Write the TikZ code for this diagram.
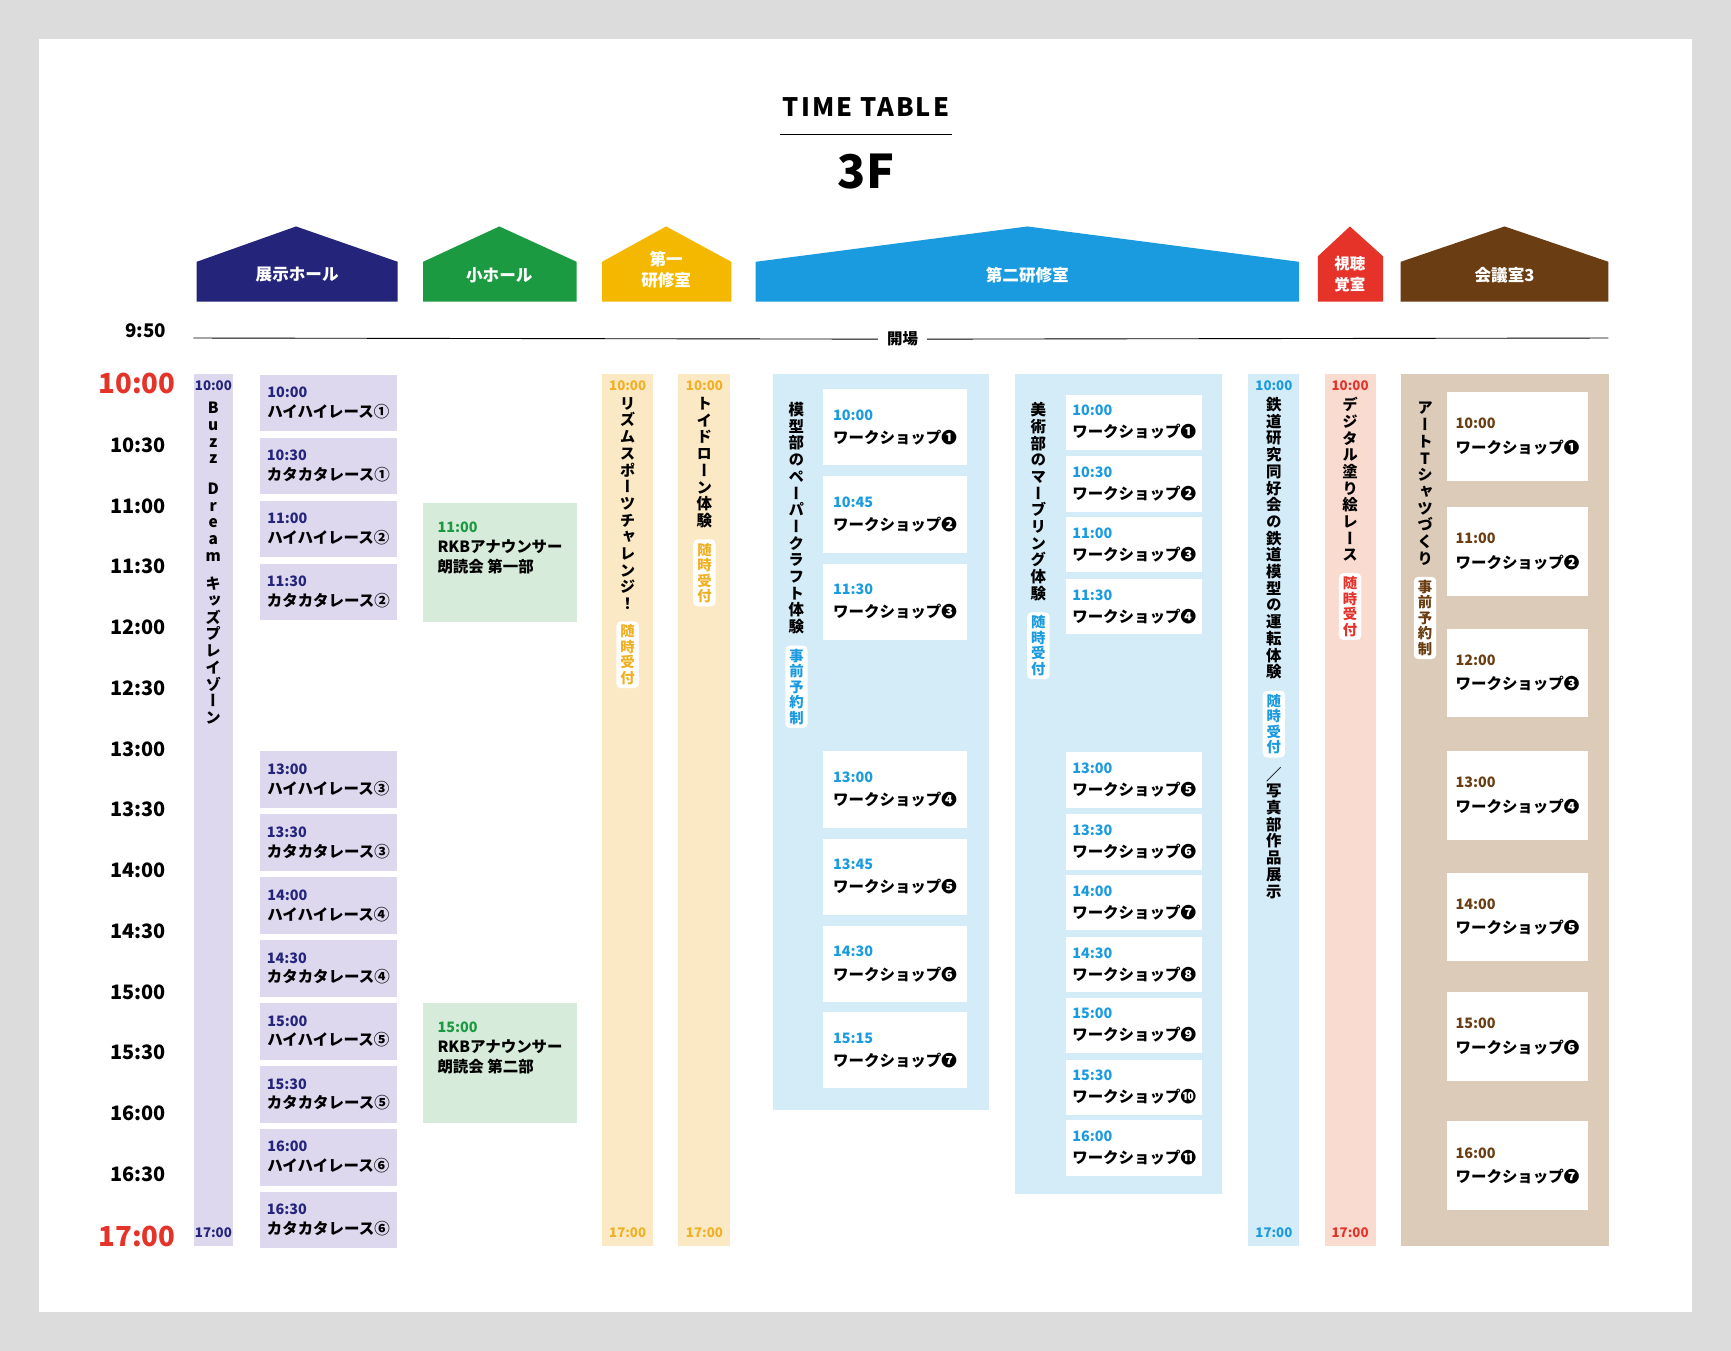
\documentclass[tikz,border=0pt]{standalone}
\usepackage{fontspec}
\setmainfont{Noto Sans CJK JP}
\newfontfamily\vfont[RawFeature=+vert]{Noto Sans CJK JP}
\definecolor{frame}{HTML}{DCDCDC}
\definecolor{navy}{HTML}{23247A}
\definecolor{lilac}{HTML}{DDD8EE}
\definecolor{hallgreen}{HTML}{1B9A42}
\definecolor{mint}{HTML}{D6EBD9}
\definecolor{amber}{HTML}{F5B800}
\definecolor{cream}{HTML}{FBE9C6}
\definecolor{tamber}{HTML}{F0B023}
\definecolor{sky}{HTML}{1A9BE0}
\definecolor{pale}{HTML}{D4EBF8}
\definecolor{scarlet}{HTML}{E5332A}
\definecolor{salmon}{HTML}{FADBD0}
\definecolor{cocoa}{HTML}{6A3D12}
\definecolor{sand}{HTML}{DCCBB9}
\usetikzlibrary{positioning}
\makeatletter
\newcommand{\vgap}{}
\def\vt@g{\vgap}
\newcommand{\vt}[1]{\vbox{\baselineskip=1.08em\lineskiplimit=-\maxdimen
  \@tfor\vt@c:=#1\do{\ifx\vt@c\vt@g\vskip.9em\else\hbox to 1.1em{\hss\vt@c\hss}\fi}}}
\makeatother
\tikzset{
  panel/.style={rectangle, anchor=north west, inner sep=0pt},
  slot/.style={rectangle, anchor=north west, align=left, inner sep=0pt, font=\fontsize{14}{18}\selectfont\bfseries},
  vlabel/.style={anchor=north, inner sep=0pt, font=\vfont\fontsize{14}{14}\selectfont\bfseries},
  badge/.style={anchor=north, fill=white, rounded corners=4pt, inner sep=3pt, font=\vfont\fontsize{13}{13}\selectfont\bfseries},
  stamp/.style={inner sep=0pt, font=\fontsize{12}{12}\selectfont\bfseries},
  roof/.style={text=white, font=\fontsize{15}{17}\selectfont\bfseries, align=center},
  hour/.style={font=\fontsize{18}{18}\selectfont\bfseries}
}
\begin{document}
\begin{tikzpicture}[x=1pt,y=-1pt]
\fill[frame] (0,0) rectangle (1567,1223);
\fill[white] (35,35) rectangle (1532,1188);
\useasboundingbox (0,0) rectangle (1567,1223);

% title
\node[font=\fontsize{23}{23}\selectfont\bfseries\addfontfeature{LetterSpace=8}] (title) at (784,97) {TIME TABLE};
\draw[line width=1pt] (706,122) -- (862,122);
\node[font=\fontsize{42}{42}\selectfont\bfseries] (floor) at (784,155) {3F};

% rooms
\fill[navy] (178,273) -- (178,237) -- (268,205) -- (360,237) -- (360,273) -- cycle;
\fill[hallgreen] (383,273) -- (383,237) -- (452,205) -- (522,237) -- (522,273) -- cycle;
\fill[amber] (545,273) -- (545,237) -- (603,205) -- (662,237) -- (662,273) -- cycle;
\fill[sky] (684,273) -- (684,237) -- (930,205) -- (1176,237) -- (1176,273) -- cycle;
\fill[scarlet] (1193,273) -- (1193,232) -- (1222,205) -- (1252,232) -- (1252,273) -- cycle;
\fill[cocoa] (1268,273) -- (1268,237) -- (1362,205) -- (1456,237) -- (1456,273) -- cycle;
\node[roof] (r1) at (269,249) {展示ホール};
\node[roof] (r2) at (452,249) {小ホール};
\node[roof, font=\fontsize{15}{19}\selectfont\bfseries] (r3) at (603,244) {第一\\研修室};
\node[roof] (r4) at (930,249) {第二研修室};
\node[roof, font=\fontsize{14}{19}\selectfont\bfseries] (r5) at (1222,248) {視聴\\覚室};
\node[roof] (r6) at (1362,249) {会議室3};

% opening
\node[hour, font=\fontsize{17}{17}\selectfont\bfseries] (t950) at (132,299) {9:50};
\node[font=\fontsize{14}{14}\selectfont\bfseries, fill=white, inner xsep=8pt] (open) at (817,307) {開場};
\draw[line width=0.8pt] (175,306) -- (open.west);
\draw[line width=0.8pt] (open.east) -- (1456,306);

% hours
\node[hour, text=scarlet, font=\fontsize{25}{25}\selectfont\bfseries] (h0) at (124,347) {10:00};
\foreach \t [count=\i] in {10:30,11:00,11:30,12:00,12:30,13:00,13:30,14:00,14:30,15:00,15:30,16:00,16:30}
  \node[hour] (h\i) at (125,348+55*\i) {\t};
\node[hour, text=scarlet, font=\fontsize{25}{25}\selectfont\bfseries] (h14) at (124,1119) {17:00};

% exhibition hall
\node[panel, fill=lilac, minimum width=36pt, minimum height=790pt] (buzz) at (175,338) {};
\node[stamp, text=navy, below=6pt of buzz.north] (buzz-a) {10:00};
\node[stamp, text=navy, above=8pt of buzz.south] (buzz-b) {17:00};
\node[vlabel, font=\fontsize{14}{14}\selectfont\bfseries] (buzz-t) at (193,364) {\vt{Buzz\vgap Dream}};
\node[vlabel, below=14pt of buzz-t] (buzz-k) {\vt{キッズプレイゾーン}};
\foreach \y/\t/\n [count=\i] in {339/10:00/ハイハイレース①, 396/10:30/カタカタレース①, 453/11:00/ハイハイレース②, 510/11:30/カタカタレース②,
  680/13:00/ハイハイレース③, 737/13:30/カタカタレース③, 794/14:00/ハイハイレース④, 851/14:30/カタカタレース④,
  908/15:00/ハイハイレース⑤, 965/15:30/カタカタレース⑤, 1022/16:00/ハイハイレース⑥, 1079/16:30/カタカタレース⑥}
  \node[slot, fill=lilac, minimum width=124pt, minimum height=51pt] (race\i) at (235,\y) {{\color{navy}\fontsize{13}{18}\selectfont\t}\\\n};

% small hall
\node[slot, fill=mint, minimum width=139pt, minimum height=108pt, align=left] (read1) at (383,455)
  {{\color{hallgreen}\fontsize{13}{21}\selectfont 11:00}\\\fontsize{14}{23}\selectfont RKBアナウンサー\\朗読会 第一部\\[10pt]};
\node[slot, fill=mint, minimum width=139pt, minimum height=108pt, align=left] (read2) at (383,908)
  {{\color{hallgreen}\fontsize{13}{21}\selectfont 15:00}\\\fontsize{14}{23}\selectfont RKBアナウンサー\\朗読会 第二部\\[10pt]};

% seminar room 1
\node[panel, fill=cream, minimum width=46pt, minimum height=790pt] (rhythm) at (545,338) {};
\node[stamp, text=tamber, below=6pt of rhythm.north] (rhythm-a) {10:00};
\node[stamp, text=tamber, above=8pt of rhythm.south] (rhythm-b) {17:00};
\node[vlabel, below=6pt of rhythm-a] (rhythm-t) {\vt{リズムスポーツチャレンジ！}};
\node[badge, text=tamber, below=10pt of rhythm-t] (rhythm-r) {\vt{随時受付}};
\node[panel, fill=cream, minimum width=47pt, minimum height=790pt] (drone) at (614,338) {};
\node[stamp, text=tamber, below=6pt of drone.north] (drone-a) {10:00};
\node[stamp, text=tamber, above=8pt of drone.south] (drone-b) {17:00};
\node[vlabel, below=6pt of drone-a] (drone-t) {\vt{トイドローン体験}};
\node[badge, text=tamber, below=10pt of drone-t] (drone-r) {\vt{随時受付}};

% seminar room 2
\node[panel, fill=pale, minimum width=195pt, minimum height=667pt] (paper) at (700,338) {};
\node[vlabel] (paper-t) at (721,364) {\vt{模型部のペーパークラフト体験}};
\node[badge, text=sky, below=10pt of paper-t] (paper-r) {\vt{事前予約制}};
\foreach \y/\t/\n [count=\i] in {352/10:00/❶, 431/10:45/❷, 510/11:30/❸, 680/13:00/❹, 759/13:45/❺, 838/14:30/❻, 916/15:15/❼}
  \node[slot, fill=white, minimum width=130pt, minimum height=69pt, font=\fontsize{14}{21}\selectfont\bfseries] (craft\i) at (745,\y) {{\color{sky}\fontsize{13}{21}\selectfont\t}\\ワークショップ\n};
\node[panel, fill=pale, minimum width=187pt, minimum height=743pt] (marble) at (919,338) {};
\node[vlabel] (marble-t) at (940,364) {\vt{美術部のマーブリング体験}};
\node[badge, text=sky, below=10pt of marble-t] (marble-r) {\vt{随時受付}};
\foreach \y/\t/\n [count=\i] in {357/10:00/❶, 413/10:30/❷, 468/11:00/❸, 524/11:30/❹, 681/13:00/❺, 737/13:30/❻,
  792/14:00/❼, 848/14:30/❽, 903/15:00/❾, 959/15:30/❿, 1014/16:00/⓫}
  \node[slot, fill=white, minimum width=123pt, minimum height=50pt, font=\fontsize{14}{20}\selectfont\bfseries] (marb\i) at (965,\y) {{\color{sky}\fontsize{13}{20}\selectfont\t}\\ワークショップ\n};
\node[panel, fill=pale, minimum width=46pt, minimum height=790pt] (rail) at (1130,338) {};
\node[stamp, text=sky, below=6pt of rail.north] (rail-a) {10:00};
\node[stamp, text=sky, above=8pt of rail.south] (rail-b) {17:00};
\node[vlabel, below=6pt of rail-a] (rail-t) {\vt{鉄道研究同好会の鉄道模型の運転体験}};
\node[badge, text=sky, below=10pt of rail-t] (rail-r) {\vt{随時受付}};
\node[vlabel, below=8pt of rail-r] (rail-p) {\vt{／写真部作品展示}};

% audio-visual room
\node[panel, fill=salmon, minimum width=46pt, minimum height=790pt] (paint) at (1199,338) {};
\node[stamp, text=scarlet, below=6pt of paint.north] (paint-a) {10:00};
\node[stamp, text=scarlet, above=8pt of paint.south] (paint-b) {17:00};
\node[vlabel, below=6pt of paint-a] (paint-t) {\vt{デジタル塗り絵レース}};
\node[badge, text=scarlet, below=10pt of paint-t] (paint-r) {\vt{随時受付}};

% meeting room 3
\node[panel, fill=sand, minimum width=188pt, minimum height=790pt] (shirt) at (1268,338) {};
\node[vlabel] (shirt-t) at (1290,364) {\vt{アートTシャツづくり}};
\node[badge, text=cocoa, below=10pt of shirt-t] (shirt-r) {\vt{事前予約制}};
\foreach \y/\t/\n [count=\i] in {355/10:00/❶, 459/11:00/❷, 569/12:00/❸, 680/13:00/❹, 790/14:00/❺, 898/15:00/❻, 1015/16:00/❼}
  \node[slot, fill=white, minimum width=127pt, minimum height=80pt, font=\fontsize{14}{22}\selectfont\bfseries] (tee\i) at (1310,\y) {{\color{cocoa}\fontsize{13}{22}\selectfont\t}\\ワークショップ\n};
\end{tikzpicture}
\end{document}
